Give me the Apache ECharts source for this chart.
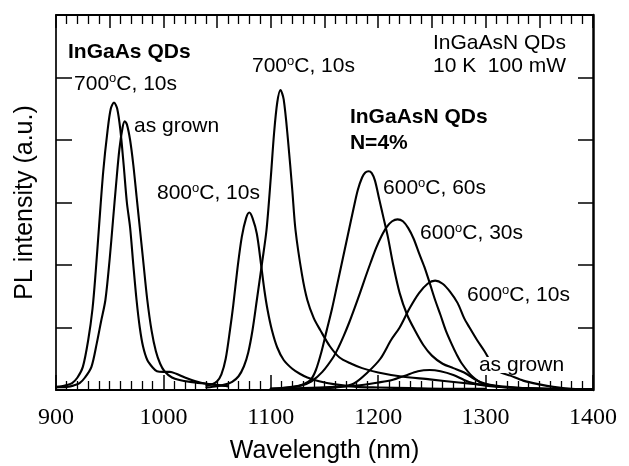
<!DOCTYPE html>
<html><head><meta charset="utf-8">
<script src="https://cdn.jsdelivr.net/npm/echarts@6/dist/echarts.min.js"></script>
<style>html,body{margin:0;padding:0;background:#fff}#c{width:629px;height:466px}</style>
</head><body><div id="c"></div>
<script>
// ---- tick labels ----
const xTickLabels = [900, 1000, 1100, 1200, 1300, 1400];

// ---- InGaAs QDs, 700°C 10s ----
const wlGaAs700 = [900,905,910,915,920,925,930,934,937,940,944,948,951,954,957,960,963,966,969,972,975,978,981,985,990,994,1000,1006,1012,1020,1030,1040,1050,1060];
const inGaAs700 = [0.05,0.06,0.08,0.11,0.2,0.37,0.8,1.3,1.9,2.6,3.5,4.15,4.5,4.6,4.5,4.15,3.6,3.0,2.6,2.0,1.44,1.0,0.7,0.48,0.36,0.3,0.29,0.29,0.26,0.2,0.14,0.1,0.08,0.06];

// ---- InGaAs QDs, as grown ----
const wlGaAsAG = [900,905,910,916,922,927,933,938,942,946,950,953,956,959,962,964,966,969,972,975,978,981,985,989,993,997,1001,1008,1015,1025,1040,1050,1060];
const inGaAsAG = [0.04,0.045,0.05,0.07,0.11,0.2,0.37,0.75,1.1,1.44,2.1,2.7,3.3,3.85,4.2,4.3,4.25,4.0,3.6,3.1,2.6,2.1,1.44,0.95,0.62,0.42,0.3,0.2,0.16,0.13,0.1,0.08,0.06];

// ---- InGaAsN QDs, 800°C 10s ----
const wlN800 = [1040,1045,1050,1054,1058,1062,1065,1069,1073,1077,1080,1083,1087,1091,1094,1097,1101,1106,1112,1120,1127,1134,1145,1160,1180,1200,1230,1260,1300];
const inN800 = [0.07,0.09,0.14,0.25,0.5,0.96,1.35,1.95,2.45,2.75,2.84,2.75,2.5,2.0,1.6,1.28,0.96,0.68,0.48,0.34,0.26,0.2,0.14,0.09,0.05,0.04,0.03,0.02,0.02];

// ---- InGaAsN QDs, 700°C 10s ----
const wlN700 = [1040,1050,1058,1064,1070,1075,1079,1083,1087,1092,1096,1100,1103,1106,1109,1112,1116,1120,1123,1129,1134,1140,1146,1155,1164,1175,1185,1200,1220,1248,1275,1300];
const inN700 = [0.04,0.06,0.09,0.13,0.22,0.38,0.6,0.96,1.44,2.05,2.56,3.4,4.1,4.6,4.8,4.65,4.0,3.2,2.56,1.85,1.44,1.15,0.96,0.7,0.52,0.42,0.35,0.28,0.22,0.17,0.12,0.08];

// ---- InGaAsN QDs, 600°C 60s ----
const wlN600s60 = [1100,1110,1120,1130,1137,1142,1147,1152,1157,1162,1167,1172,1177,1181,1185,1188,1191,1194,1197,1201,1205,1209,1214,1220,1227,1234,1242,1250,1260,1270,1280,1290,1300,1320,1350,1400];
const inN600s60 = [0.02,0.03,0.05,0.09,0.16,0.32,0.6,0.95,1.3,1.7,2.1,2.5,2.9,3.2,3.4,3.48,3.5,3.47,3.35,3.05,2.75,2.45,2.0,1.55,1.2,0.96,0.72,0.55,0.42,0.35,0.28,0.17,0.1,0.05,0.02,0.01];

// ---- InGaAsN QDs, 600°C 30s ----
const wlN600s30 = [1100,1118,1128,1138,1148,1158,1163,1168,1173,1178,1183,1188,1193,1198,1203,1208,1213,1218,1223,1228,1233,1238,1243,1248,1253,1258,1263,1268,1273,1278,1288,1298,1320,1350,1400];
const inN600s30 = [0.02,0.04,0.07,0.14,0.29,0.52,0.68,0.87,1.08,1.31,1.55,1.8,2.04,2.27,2.46,2.61,2.7,2.73,2.7,2.59,2.42,2.19,1.97,1.71,1.44,1.2,0.95,0.75,0.57,0.42,0.21,0.1,0.04,0.02,0.01];

// ---- InGaAsN QDs, 600°C 10s ----
const wlN600s10 = [1100,1130,1150,1165,1177,1190,1202,1212,1220,1229,1238,1246,1253,1260,1267,1274,1280,1285,1292,1299,1306,1313,1323,1335,1350,1363,1380,1400];
const inN600s10 = [0.01,0.02,0.03,0.05,0.1,0.28,0.5,0.8,1.0,1.3,1.55,1.7,1.75,1.7,1.57,1.39,1.15,1.0,0.8,0.62,0.42,0.29,0.23,0.15,0.09,0.05,0.02,0.01];

// ---- InGaAsN QDs, as grown ----
const wlNAG = [1100,1130,1160,1180,1200,1213,1225,1237,1248,1258,1270,1280,1288,1300,1320,1340,1370,1400];
const inNAG = [0.02,0.03,0.05,0.07,0.12,0.16,0.23,0.3,0.32,0.3,0.24,0.16,0.11,0.07,0.04,0.03,0.015,0.01];

// ---- annotation texts, anchored (left, middle) in data coordinates ----
const noteTexts = ['InGaAs QDs','700°C, 10s','as grown','800°C, 10s','700°C, 10s','InGaAsN QDs','N=4%','InGaAsN QDs','10 K  100 mW','600°C, 60s','600°C, 30s','600°C, 10s','as grown'];
const noteWl    = [911.2, 916.8, 972.6, 994.0, 1082.5, 1173.7, 1173.7, 1251.0, 1251.0, 1204.5, 1239.0, 1282.7, 1291.0];
const noteVal   = [5.41, 4.90, 4.22, 3.15, 5.18, 4.37, 3.95, 5.55, 5.18, 3.23, 2.51, 1.52, 0.40];
const noteBold  = [true,false,false,false,false,true,true,false,false,false,false,false,false];
const noteMask  = [false,false,false,false,false,false,false,false,false,false,false,false,true];

const curves = [
  [wlGaAs700, inGaAs700], [wlGaAsAG, inGaAsAG],
  [wlN800, inN800], [wlN700, inN700],
  [wlN600s60, inN600s60], [wlN600s30, inN600s30],
  [wlN600s10, inN600s10], [wlNAG, inNAG]
];

const SANS = '"Liberation Sans", Arial, Helvetica, sans-serif';
const SERIF = '"Liberation Serif", "Times New Roman", serif';

const chart = echarts.init(document.getElementById('c'), null, {renderer: 'canvas'});

const axisBase = (w) => ({
  type: 'value', min: 900, max: 1400,
  axisLine: {show: true, onZero: false, lineStyle: {color: '#000', width: w}},
  splitLine: {show: false}, minorSplitLine: {show: false}
});

const option = {
  animation: false,
  backgroundColor: '#fff',
  grid: {left: 56, right: 36, top: 15, bottom: 76, outerBoundsMode: 'none', containLabel: false},
  xAxis: [
    Object.assign(axisBase(2), {
      position: 'bottom', interval: 100,
      axisTick: {show: true, inside: true, length: 15, lineStyle: {color: '#000', width: 1.5}},
      minorTick: {show: true, splitNumber: 10, length: 9, lineStyle: {color: '#000', width: 1.3}},
      axisLabel: {show: true, margin: 16, color: '#000', fontFamily: SERIF, fontSize: 24,
        showMinLabel: true, showMaxLabel: true,
        formatter: (v) => xTickLabels.includes(v) ? String(v) : ''},
      name: 'Wavelength (nm)', nameLocation: 'middle', nameGap: 49,
      nameTextStyle: {fontFamily: SANS, fontSize: 25, color: '#000'}
    }),
    Object.assign(axisBase(2), {
      position: 'top', interval: 50,
      axisTick: {show: true, inside: true, length: 13, lineStyle: {color: '#000', width: 1.5}},
      minorTick: {show: true, splitNumber: 5, length: 9, lineStyle: {color: '#000', width: 1.3}},
      axisLabel: {show: false}
    })
  ],
  yAxis: [
    {
      type: 'value', min: 0, max: 6, interval: 1, position: 'left',
      axisLine: {show: true, onZero: false, lineStyle: {color: '#000', width: 1.7}},
      axisTick: {show: true, inside: true, length: 16, lineStyle: {color: '#000', width: 1.5}},
      axisLabel: {show: false}, splitLine: {show: false},
      name: 'PL intensity (a.u.)', nameLocation: 'middle', nameGap: 18, nameRotate: 90,
      nameTextStyle: {fontFamily: SANS, fontSize: 25, color: '#000'}
    },
    {
      type: 'value', min: 0, max: 6, interval: 1, position: 'right',
      axisLine: {show: true, onZero: false, lineStyle: {color: '#000', width: 2.5}},
      axisTick: {show: true, inside: true, length: 15, lineStyle: {color: '#000', width: 1.5}},
      axisLabel: {show: false}, splitLine: {show: false}
    }
  ],
  series: curves.map(([wl, iv]) => ({
    type: 'line', xAxisIndex: 0, yAxisIndex: 0,
    data: wl.map((w, i) => [w, iv[i]]),
    showSymbol: false, symbol: 'none',
    smooth: 0.3,
    lineStyle: {color: '#000', width: 2.1, join: 'round', cap: 'round'},
    clip: true, silent: true, z: 2
  }))
};
chart.setOption(option);

function toRich(t) {
  const parts = t.split('°');
  let s = '';
  parts.forEach((p, i) => {
    if (i > 0) s += '{s|o}';
    if (p) s += '{n|' + p + '}';
  });
  return s;
}

const graphics = noteTexts.map((t, i) => {
  const [px, py] = chart.convertToPixel({xAxisIndex: 0, yAxisIndex: 0}, [noteWl[i], noteVal[i]]);
  const weight = noteBold[i] ? 'bold' : 'normal';
  const lh = noteMask[i] ? 16 : 23;
  const st = {
    text: toRich(t),
    x: px, y: py,
    fill: '#000',
    align: 'left', verticalAlign: 'middle',
    textAlign: 'left', textVerticalAlign: 'middle',
    font: weight + ' 21px ' + SANS,
    rich: {
      n: {fontFamily: SANS, fontSize: 21, fontWeight: weight, lineHeight: lh, fill: '#000', color: '#000'},
      s: {fontFamily: SANS, fontSize: 13, fontWeight: weight, lineHeight: 13, verticalAlign: 'top', fill: '#000', color: '#000'}
    }
  };
  if (noteMask[i]) {
    st.backgroundColor = '#fff';
    st.padding = [0, 3, 0, 3];
  }
  return {type: 'text', z: 10, silent: true, style: st};
});
chart.setOption({graphic: graphics});
</script>
</body></html>
